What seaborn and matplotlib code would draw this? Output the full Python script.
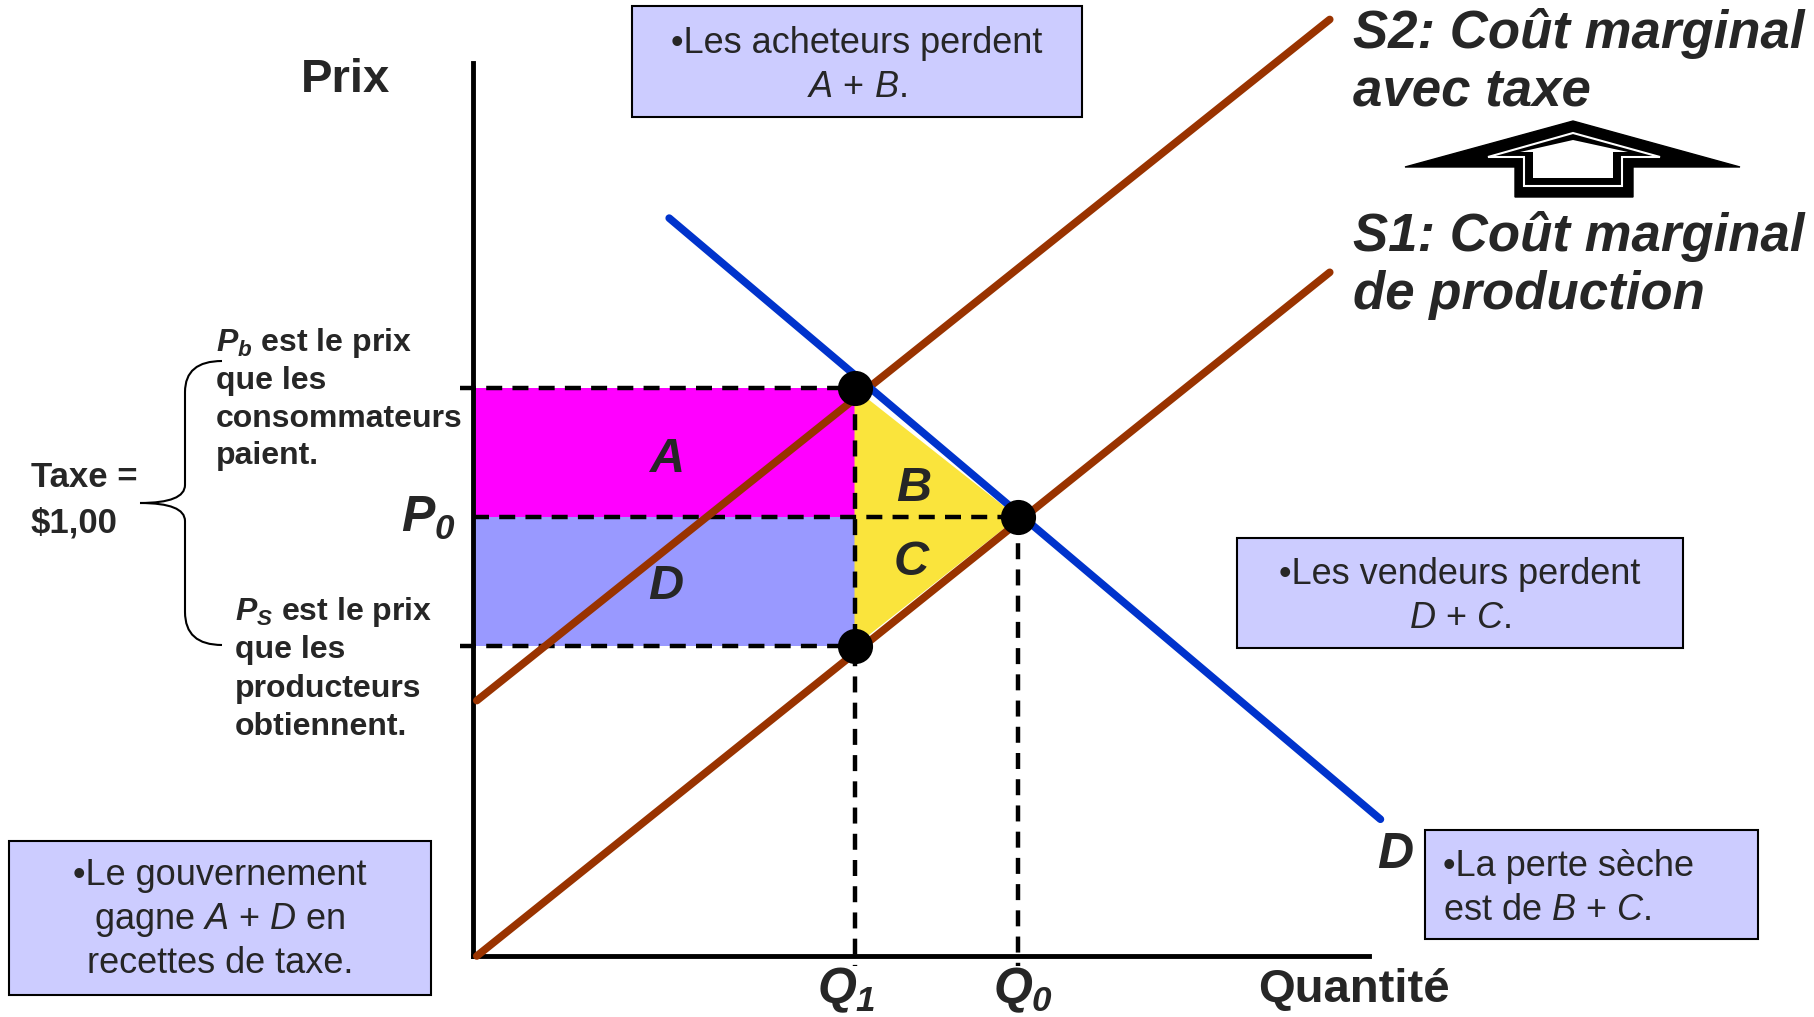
import matplotlib
matplotlib.use('Agg')
import matplotlib.pyplot as plt
import pandas as pd
import seaborn as sns
from matplotlib.patches import Rectangle, Polygon, PathPatch
from matplotlib.path import Path

# market values (quantity units, price in $)
q1, q0 = 7, 10
p_b, p_0, p_s = 2.20, 1.70, 1.20
s1_q = [0.07, 15.72]
s1_p = [0.0, 2.65]
s2_p = [0.99, 3.63]          # S1 shifted up by the $1,00 tax
d_q = [3.6, 16.65]
d_p = [2.86, 0.53]
q_axis_end = 16.44
p_axis_end = 3.46
dots_q = [q1, q0, q1]
dots_p = [p_b, p_0, p_s]

# layout (pixels of the 1814x1017 output)
W, H = 1814, 1017
ORIGIN = (473, 956)
PX_Q, PX_P = 54.5, 258

BROWN = '#993300'
BLUE = '#0033CC'
MAGENTA = '#FF00FF'
LAVENDER = '#9999FF'
YELLOW = '#FAE43C'
BOXFILL = '#CCCCFF'

sns.set_theme(style='white')
plt.rcParams['font.family'] = ['Liberation Sans', 'DejaVu Sans']
plt.rcParams['mathtext.fontset'] = 'custom'
# digits in math (P0, Q1, Q0) come from the rm slot: make them bold italic too
plt.rcParams['mathtext.rm'] = 'Liberation Sans:italic:bold'
plt.rcParams['mathtext.it'] = 'Liberation Sans:italic:bold'
plt.rcParams['mathtext.sf'] = 'Liberation Sans:italic'
plt.rcParams['mathtext.bf'] = 'Liberation Sans:bold'

fig = plt.figure(figsize=(W / 100, H / 100), dpi=100)
ax = fig.add_axes([0, 0, 1, 1])
ax.set_xlim(-ORIGIN[0] / PX_Q, (W - ORIGIN[0]) / PX_Q)
ax.set_ylim((ORIGIN[1] - H) / PX_P, ORIGIN[1] / PX_P)

# surplus areas
ax.fill_between([0, q1], p_0, p_b, color=MAGENTA, lw=0, zorder=1)
ax.fill_between([0, q1], p_s, p_0, color=LAVENDER, lw=0, zorder=1)
ax.fill([q1, q0, q1], [p_b, p_0, p_s], color=YELLOW, lw=0, zorder=1)

# dashed guides
dash = dict(color='black', lw=3.2, ls=(0, (3.6, 2.3)), zorder=2)
ax.plot([-0.24, q1], [p_b, p_b], **dash)
ax.plot([-0.24, q1], [p_s, p_s], **dash)
ax.plot([0, q0], [p_0, p_0], **dash)
ax.plot([q1, q1], [p_b, -0.04], **dash)
ax.plot([q0, q0], [p_0, -0.04], **dash)

# supply and demand curves
curves = pd.DataFrame({
    'q': s1_q + s1_q + d_q,
    'p': s1_p + s2_p + d_p,
    'curve': ['S1'] * 2 + ['S2'] * 2 + ['D'] * 2,
})
sns.lineplot(data=curves, x='q', y='p', hue='curve',
             palette={'S1': BROWN, 'S2': BROWN, 'D': BLUE},
             estimator=None, sort=False, linewidth=5.5, legend=False, ax=ax, zorder=3)
sns.scatterplot(x=dots_q, y=dots_p, color='black', s=640, linewidth=0,
                ax=ax, zorder=4)

ax.set_xlabel('')
ax.set_ylabel('')
ax.set_xticks([])
ax.set_yticks([])
for side in ['top', 'right']:
    ax.spines[side].set_visible(False)
ax.spines['left'].set_position(('data', 0))
ax.spines['left'].set_bounds(0, p_axis_end)
ax.spines['bottom'].set_position(('data', 0))
ax.spines['bottom'].set_bounds(0, q_axis_end)
for side in ['left', 'bottom']:
    ax.spines[side].set_linewidth(3.5)
    ax.spines[side].set_color('black')

# overlay in pixel units for labels, boxes, brace and arrow
ov = fig.add_axes([0, 0, 1, 1])
ov.set_xlim(0, W)
ov.set_ylim(H, 0)
ov.axis('off')
ov.patch.set_alpha(0)


def lines(x, ys, texts, **kw):
    for y, t in zip(ys, texts):
        ov.text(x, y, t, va='baseline', **kw)


def box(x0, y0, x1, y1):
    ov.add_patch(Rectangle((x0, y0), x1 - x0, y1 - y0, facecolor=BOXFILL,
                           edgecolor='black', lw=1.5))


big_bi = dict(fontsize=38, fontweight='bold', style='italic')
lines(1353, [48, 106], ['S2: Coût marginal', 'avec taxe'], **big_bi)
lines(1353, [251, 309], ['S1: Coût marginal', 'de production'], **big_bi)

# hollow block arrow between the two supply labels
ov.add_patch(Polygon([(1405, 167), (1573, 121), (1740, 167), (1633, 167),
                      (1633, 197), (1515, 197), (1515, 167)],
                     closed=True, facecolor='black', edgecolor='black', lw=1))
ov.add_patch(Polygon([(1488, 157), (1573, 133), (1660, 157), (1622, 157),
                      (1622, 186), (1524, 186), (1524, 157)],
                     closed=True, facecolor='black', edgecolor='white', lw=1.5))
ov.add_patch(Polygon([(1520, 152), (1573, 140), (1628, 152), (1613, 152),
                      (1613, 178), (1533, 178), (1533, 152)],
                     closed=True, facecolor='white', edgecolor='none'))

ov.text(301, 92, 'Prix', fontsize=34, fontweight='bold', va='baseline')
ov.text(1258, 1002, 'Quantité', fontsize=34, fontweight='bold', va='baseline')
ov.text(401, 532, r'$\mathit{P_0}$', fontsize=36, va='baseline')
ov.text(817, 1003, r'$\mathit{Q_1}$', fontsize=36, va='baseline')
ov.text(993, 1003, r'$\mathit{Q_0}$', fontsize=36, va='baseline')
ov.text(1377, 868, r'$\mathit{D}$', fontsize=36, va='baseline')

for lab, x, y in [('A', 665, 472), ('B', 914, 501), ('C', 912, 575), ('D', 666, 599)]:
    ov.text(x, y, r'$\mathit{%s}$' % lab, fontsize=35, ha='center', va='baseline')

# tax brace and its notes
bold = dict(fontsize=23, fontweight='bold')
lines(216, [351, 389, 427, 464],
      [r'$\mathit{P_b}$ est le prix', 'que les', 'consommateurs', 'paient.'], **bold)
lines(235, [620, 658, 697, 735],
      [r'$\mathit{P_S}$ est le prix', 'que les', 'producteurs', 'obtiennent.'], **bold)
lines(31, [487, 533], ['Taxe =', r'\$1,00'], fontsize=25, fontweight='bold')

brace = Path(
    [(222, 361), (185, 361), (185, 392), (185, 485), (185, 503), (140, 503),
     (185, 503), (185, 521), (185, 612), (185, 645), (222, 645)],
    [Path.MOVETO, Path.CURVE3, Path.CURVE3, Path.LINETO, Path.CURVE3, Path.CURVE3,
     Path.CURVE3, Path.CURVE3, Path.LINETO, Path.CURVE3, Path.CURVE3])
ov.add_patch(PathPatch(brace, facecolor='none', edgecolor='black', lw=1.5))

# explanation boxes
reg = dict(fontsize=26)
box(632, 6, 1082, 117)
lines(857, [53, 97], ['•Les acheteurs perdent', r'$\mathsf{A}$ + $\mathsf{B}$.'],
      ha='center', **reg)
box(1237, 538, 1683, 648)
lines(1460, [584, 628], ['•Les vendeurs perdent', r'$\mathsf{D}$ + $\mathsf{C}$.'],
      ha='center', **reg)
box(1425, 830, 1758, 939)
lines(1443, [876, 920], ['•La perte sèche', r'est de $\mathsf{B}$ + $\mathsf{C}$.'],
      ha='left', **reg)
box(9, 841, 431, 995)
lines(220, [885, 929, 973],
      ['•Le gouvernement', r'gagne $\mathsf{A}$ + $\mathsf{D}$ en', 'recettes de taxe.'],
      ha='center', **reg)

fig.savefig('out.png', dpi=100)
